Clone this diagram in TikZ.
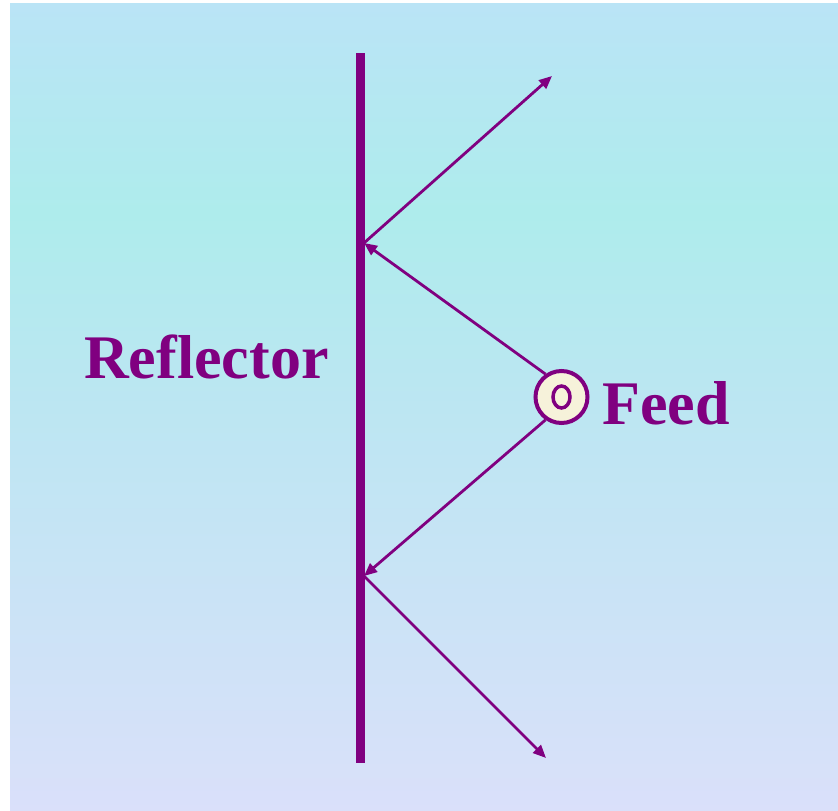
\documentclass[tikz,border=0pt]{standalone}
\usepackage{fontspec}
\setmainfont{Liberation Serif}
\usetikzlibrary{arrows.meta}
\definecolor{purp}{RGB}{128,0,128}
\definecolor{topc}{RGB}{186,228,246}
\definecolor{midc}{RGB}{174,236,236}
\definecolor{mid2}{RGB}{188,230,242}
\definecolor{botc}{RGB}{218,224,250}
\definecolor{cream}{RGB}{246,242,218}
\pgfdeclareverticalshading{bgshade}{100bp}{color(0bp)=(botc); color(25bp)=(botc); color(50bp)=(mid2); color(62bp)=(midc); color(75bp)=(topc); color(100bp)=(topc)}
\tikzset{
  ray/.style={purp, line width=2.8pt, -{Triangle[length=13pt,width=11pt]}},
  lbl/.style={purp, font=\fontsize{62}{70}\selectfont\bfseries, inner sep=0pt, anchor=base west}
}
\begin{document}
\begin{tikzpicture}[x=1pt,y=-1pt]
\useasboundingbox (0,0) rectangle (838,811);
\shade[shading=bgshade] (10,3) rectangle (838,811);
% reflector
\coordinate (rtop) at (360,53);
\coordinate (rbot) at (360,763);
\draw[purp, line width=9pt] (rtop) -- (rbot);
% feed
\node[circle, draw=purp, fill=cream, line width=4pt, minimum size=52pt, inner sep=0pt] (feed) at (561.5,397) {};
\draw[purp, line width=3.5pt] (feed.center) ellipse (8.5pt and 11pt);
% reflection points
\coordinate (p1) at (364,243);
\coordinate (p2) at (364,576);
\coordinate (o1) at (552,76);
\coordinate (o2) at (546,758);
\draw[ray] (feed.125) -- (p1);
\draw[ray] (feed.235) -- (p2);
\draw[ray] (p1) -- (o1);
\draw[ray] (p2) -- (o2);
% labels
\node[lbl] (reflbl) at (84,378) {Reflector};
\node[lbl] (feedlbl) at (602,424) {Feed};
\end{tikzpicture}
\end{document}
